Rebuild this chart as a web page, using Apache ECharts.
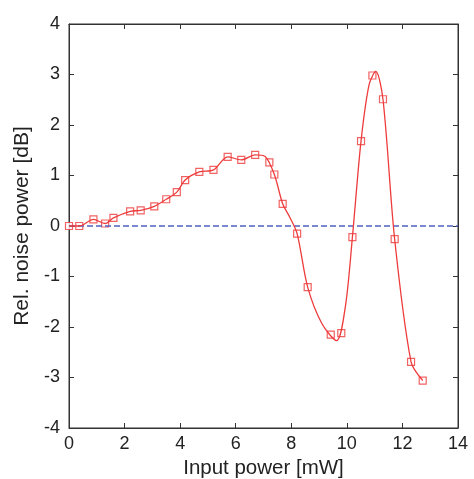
<!DOCTYPE html>
<html><head><meta charset="utf-8">
<script src="https://cdn.jsdelivr.net/npm/echarts@6/dist/echarts.min.js"></script>
<style>html,body{margin:0;padding:0;background:#fff}#c{width:474px;height:479px}</style>
</head><body><div id="c"></div>
<script>
// measured points (markers)
const xVals = [0, 0.37, 0.88, 1.30, 1.60, 2.20, 2.58, 3.07, 3.50, 3.88, 4.18, 4.69, 5.20, 5.71, 6.20, 6.70, 7.21, 7.39, 7.69, 8.21, 8.59, 9.42, 9.80, 10.20, 10.51, 10.92, 11.30, 11.72, 12.31, 12.73];
const yVals = [0, 0, 0.13, 0.05, 0.16, 0.29, 0.31, 0.39, 0.53, 0.67, 0.91, 1.07, 1.11, 1.37, 1.31, 1.41, 1.26, 1.02, 0.44, -0.15, -1.21, -2.15, -2.12, -0.22, 1.68, 2.98, 2.51, -0.26, -2.69, -3.06];
// fitted curve points
const curveX = [0, 0.37, 0.88, 1.30, 1.60, 2.20, 2.58, 3.07, 3.50, 3.88, 4.18, 4.69, 5.20, 5.71, 6.20, 6.70, 7.05, 7.39, 7.69, 7.95, 8.21, 8.59, 9.10, 9.63, 9.95, 10.20, 10.51, 10.80, 11.04, 11.30, 11.72, 12.31, 12.73];
const curveY = [0, 0, 0.13, 0.05, 0.16, 0.29, 0.31, 0.39, 0.53, 0.67, 0.91, 1.07, 1.11, 1.37, 1.31, 1.41, 1.38, 1.02, 0.44, 0.17, -0.15, -1.21, -1.93, -2.27, -1.58, -0.22, 1.68, 2.80, 3.06, 2.51, -0.26, -2.69, -3.06];
const xTicks = [0, 2, 4, 6, 8, 10, 12, 14];
const yTicks = [-4, -3, -2, -1, 0, 1, 2, 3, 4];

const chart = echarts.init(document.getElementById('c'));
const font = 'Liberation Sans, Arial, sans-serif';
const axisCommon = {
  axisLine: {show: true, onZero: false, lineStyle: {color: '#333', width: 1}},
  axisTick: {show: true, inside: true, length: 5, lineStyle: {color: '#333'}},
  splitLine: {show: false}
};
chart.setOption({
  animation: false,
  grid: {left: 69, right: 16, top: 24, bottom: 51, show: true, borderColor: '#333', borderWidth: 1,
    containLabel: false, outerBoundsMode: 'none'},
  xAxis: [
    Object.assign({type: 'value', min: xTicks[0], max: xTicks[xTicks.length-1], interval: 2, position: 'bottom',
      name: 'Input power [mW]', nameLocation: 'middle', nameGap: 26,
      nameTextStyle: {fontFamily: font, fontSize: 20.5, color: '#222'},
      axisLabel: {fontFamily: font, fontSize: 18, color: '#222', margin: 7}}, axisCommon),
    Object.assign({type: 'value', min: 0, max: 14, interval: 2, position: 'top', axisLabel: {show: false}}, axisCommon)
  ],
  yAxis: [
    Object.assign({type: 'value', min: yTicks[0], max: yTicks[yTicks.length-1], interval: 1, position: 'left',
      name: 'Rel. noise power [dB]', nameLocation: 'middle', nameGap: 34,
      nameTextStyle: {fontFamily: font, fontSize: 21, color: '#222'},
      axisLabel: {fontFamily: font, fontSize: 18, color: '#222', margin: 9}}, axisCommon),
    Object.assign({type: 'value', min: -4, max: 4, interval: 1, position: 'right', axisLabel: {show: false}}, axisCommon)
  ],
  series: [
    {type: 'line', data: [[0, 0], [14, 0]], symbol: 'none', silent: true,
      lineStyle: {color: '#5060c0', width: 1.4, type: [6, 3]}},
    {type: 'line', data: curveX.map((x, i) => [x, curveY[i]]), symbol: 'none', smooth: 0.3,
      lineStyle: {color: '#ee3b3b', width: 1.3}},
    {type: 'scatter', data: xVals.map((x, i) => [x, yVals[i]]), symbol: 'rect', symbolSize: 7,
      itemStyle: {color: '#fff', borderColor: '#ee3b3b', borderWidth: 1.2}}
  ]
});
</script></body></html>
